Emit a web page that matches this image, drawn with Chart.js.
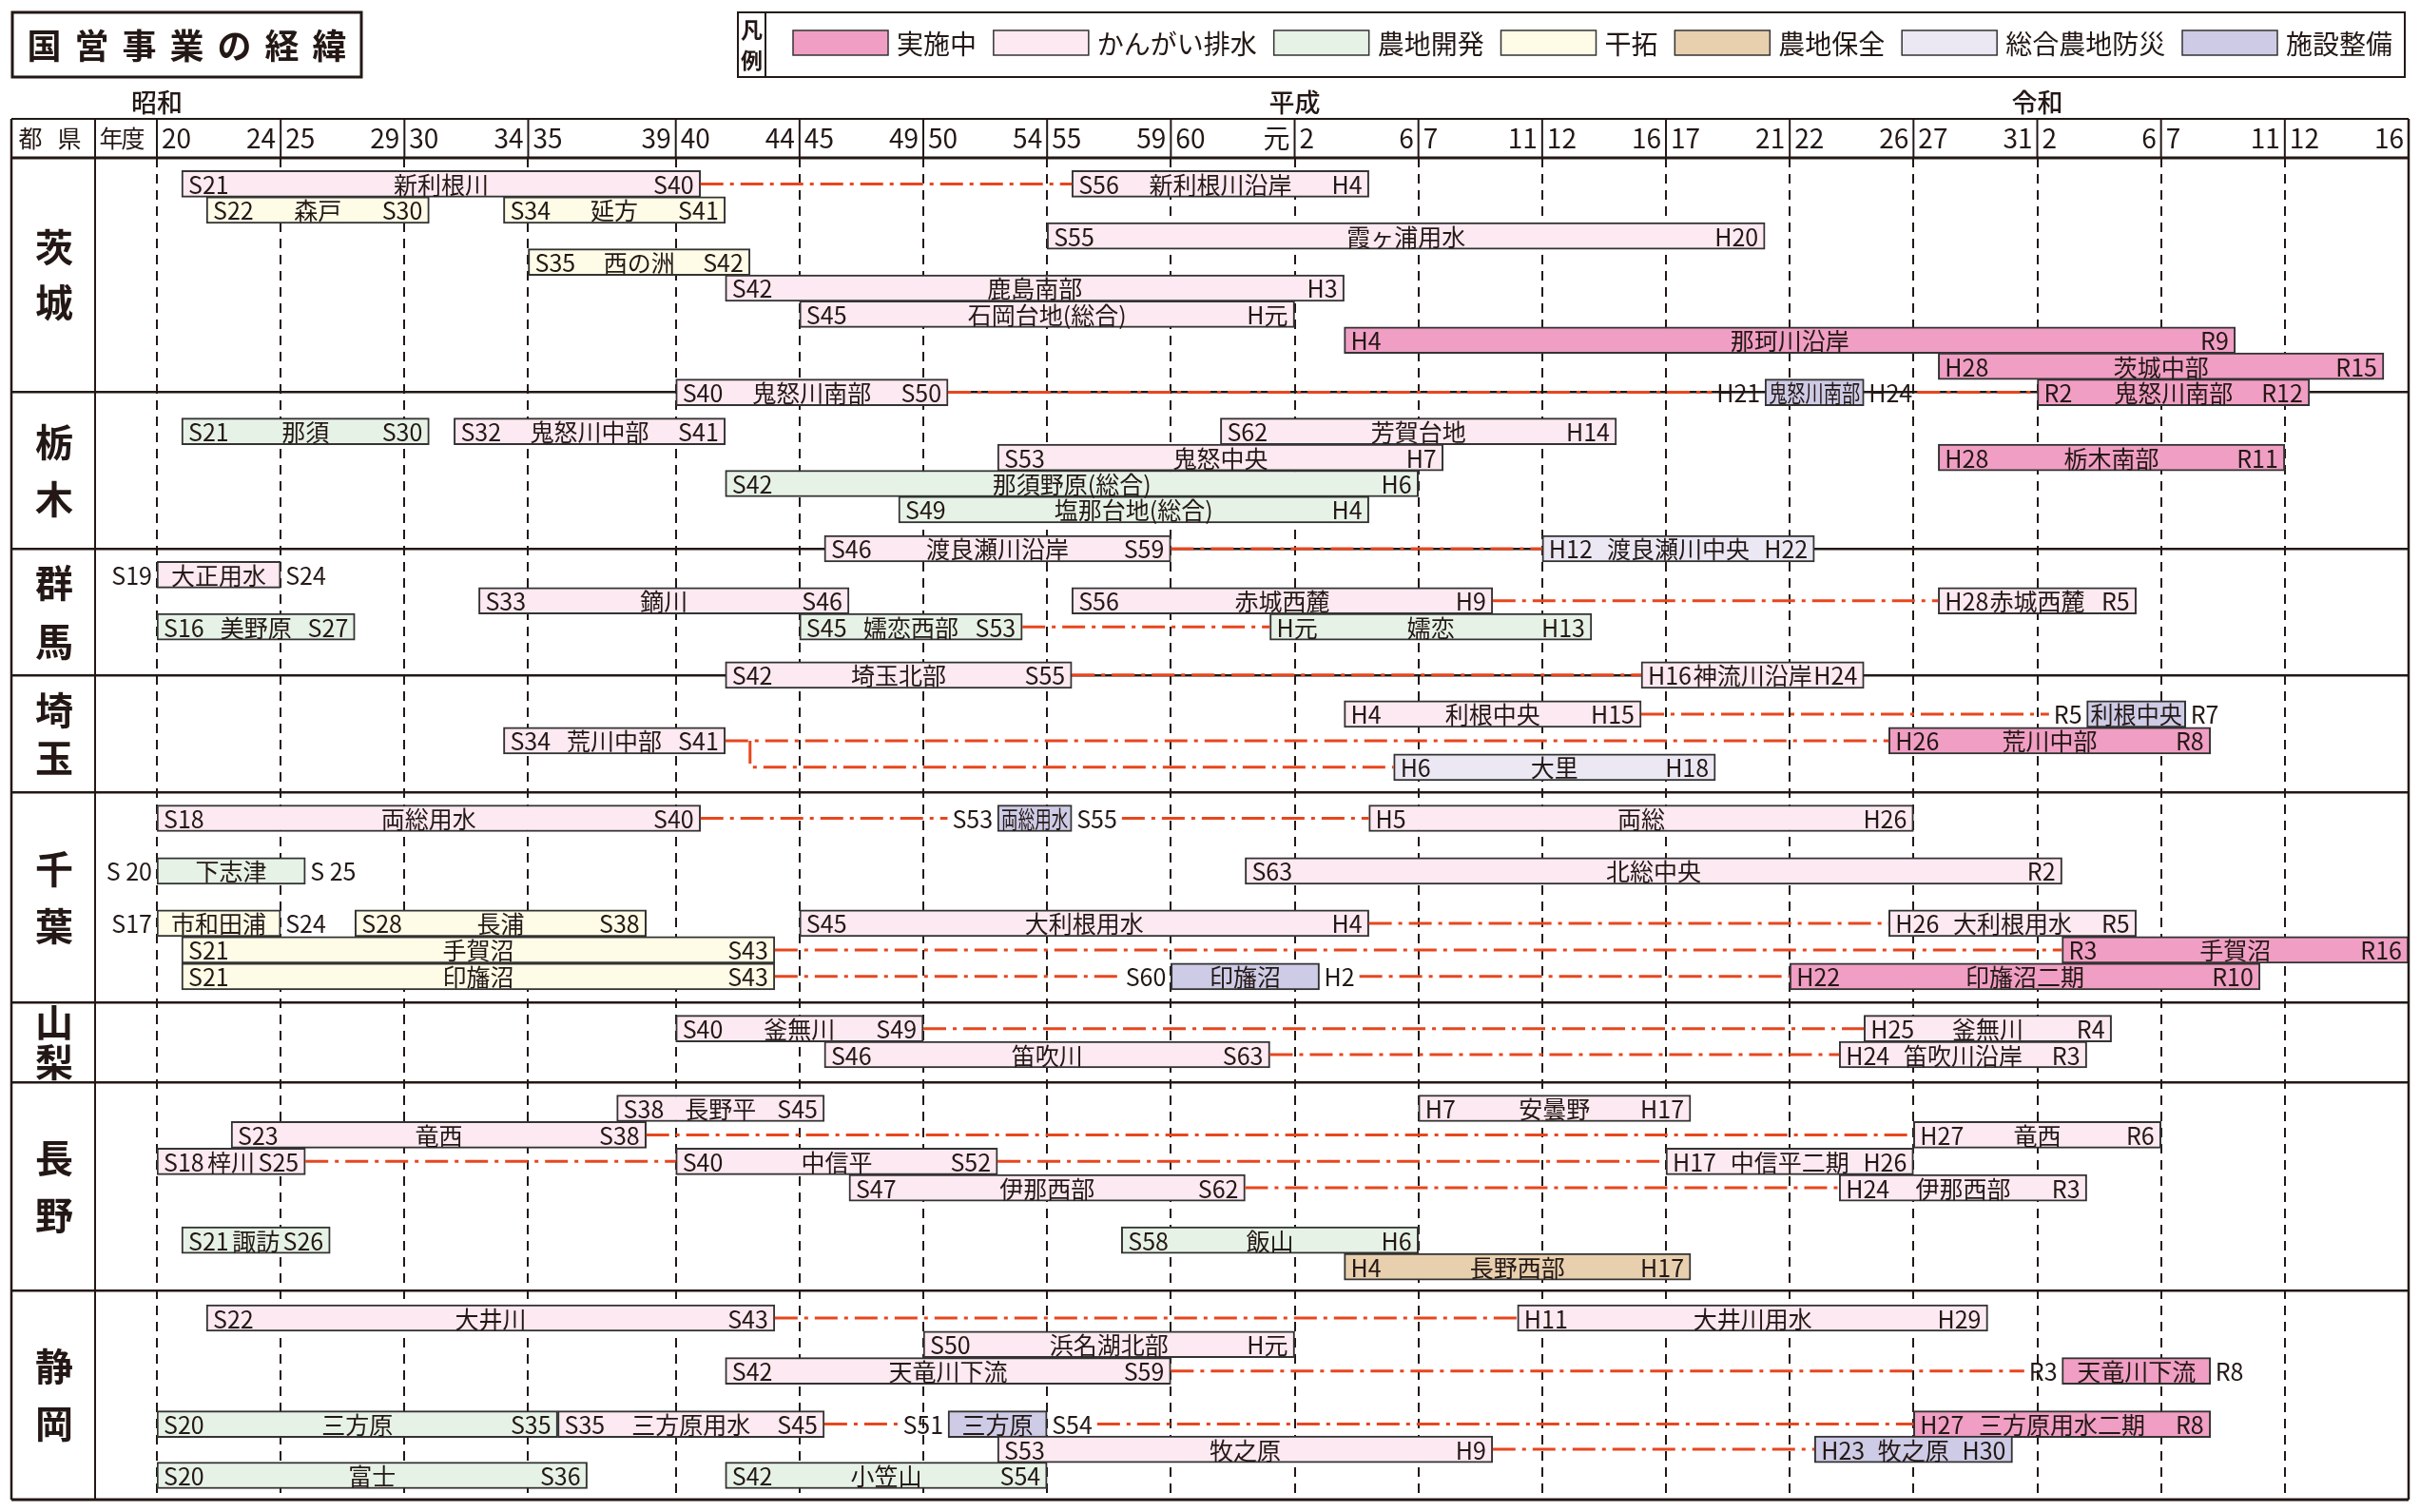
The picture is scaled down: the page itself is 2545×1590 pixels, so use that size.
<!DOCTYPE html>
<html lang="ja">
<head>
<meta charset="utf-8">
<title>国営事業の経緯</title>
<script src="https://cdn.jsdelivr.net/npm/chart.js@4.4.1/dist/chart.umd.min.js"></script>
<style>
  html, body { margin: 0; padding: 0; background: #fff; }
  #wrap { width: 2545px; height: 1590px; position: relative; }
</style>
</head>
<body>
<div id="wrap"><canvas id="history"></canvas></div>
<script>
const FONT = '"Noto Sans CJK JP", "Noto Sans", sans-serif';
const INK = '#231815';
const LINK_COLOR = '#e8461e';

const typeNames = ['実施中', 'かんがい排水', '農地開発', '干拓', '農地保全', '総合農地防災', '施設整備'];
const typeColors = ['#f09ec3', '#fce9f1', '#e7f2e6', '#fefbe7', '#e8cfae', '#ebe8f4', '#cecbe6'];

// x axis: fiscal years, one block per 5 years
const blockStartYears = [1945, 1950, 1955, 1960, 1965, 1970, 1975, 1980, 1985, 1990, 1995, 2000, 2005, 2010, 2015, 2020, 2025, 2030];
const blockStartLabels = ['20', '25', '30', '35', '40', '45', '50', '55', '60', '2', '7', '12', '17', '22', '27', '2', '7', '12'];
const blockEndLabels = ['24', '29', '34', '39', '44', '49', '54', '59', '元', '6', '11', '16', '21', '26', '31', '6', '11', '16'];
const eraLabels = ['昭和', '平成', '令和'];
const eraLabelYears = [1945, 1990, 2020];

// y axis: lanes, prefecture sections
const prefectures = ['茨城', '栃木', '群馬', '埼玉', '千葉', '山梨', '長野', '静岡'];
const prefectureEdges = [0, 9, 15, 19.85, 24.34, 32.42, 35.48, 43.49, 51.5];

// [name, start, end, type, lane, link from previous, labels outside box, drawn start]
const ibaraki = [
  ['新利根川', 'S21', 'S40', 1, 1],
  ['新利根川沿岸', 'S56', 'H4', 1, 1, 1],
  ['森戸', 'S22', 'S30', 3, 2],
  ['延方', 'S34', 'S41', 3, 2],
  ['霞ヶ浦用水', 'S55', 'H20', 1, 3],
  ['西の洲', 'S35', 'S42', 3, 4],
  ['鹿島南部', 'S42', 'H3', 1, 5],
  ['石岡台地(総合)', 'S45', 'H元', 1, 6],
  ['那珂川沿岸', 'H4', 'R9', 0, 7],
  ['茨城中部', 'H28', 'R15', 0, 8],
  ['鬼怒川南部', 'S40', 'S50', 1, 9],
  ['鬼怒川南部', 'H21', 'H24', 6, 9, 1, true],
  ['鬼怒川南部', 'R2', 'R12', 0, 9, 1]
];
const tochigi = [
  ['那須', 'S21', 'S30', 2, 10.5],
  ['鬼怒川中部', 'S32', 'S41', 1, 10.5],
  ['芳賀台地', 'S62', 'H14', 1, 10.5],
  ['鬼怒中央', 'S53', 'H7', 1, 11.5],
  ['栃木南部', 'H28', 'R11', 0, 11.5],
  ['那須野原(総合)', 'S42', 'H6', 2, 12.5],
  ['塩那台地(総合)', 'S49', 'H4', 2, 13.5],
  ['渡良瀬川沿岸', 'S46', 'S59', 1, 15],
  ['渡良瀬川中央', 'H12', 'H22', 5, 15, 1]
];
const gunma = [
  ['大正用水', 'S19', 'S24', 1, 16, 0, true],
  ['鏑川', 'S33', 'S46', 1, 17],
  ['赤城西麓', 'S56', 'H9', 1, 17],
  ['赤城西麓', 'H28', 'R5', 1, 17, 1],
  ['美野原', 'S16', 'S27', 2, 18],
  ['嬬恋西部', 'S45', 'S53', 2, 18],
  ['嬬恋', 'H元', 'H13', 2, 18, 1],
  ['埼玉北部', 'S42', 'S55', 1, 19.85],
  ['神流川沿岸', 'H16', 'H24', 1, 19.85, 1]
];
const saitama = [
  ['利根中央', 'H4', 'H15', 1, 21.35],
  ['利根中央', 'R5', 'R7', 6, 21.35, 1, true, 'R4'],
  ['荒川中部', 'S34', 'S41', 1, 22.37],
  ['荒川中部', 'H26', 'R8', 0, 22.37, 1],
  ['大里', 'H6', 'H18', 5, 23.39, [22.37, 'S43']]
];
const chiba = [
  ['両総用水', 'S18', 'S40', 1, 25.35],
  ['両総用水', 'S53', 'S55', 6, 25.35, 1, true],
  ['両総', 'H5', 'H26', 1, 25.35, 1],
  ['下志津', 'S 20', 'S 25', 2, 27.37, 0, true],
  ['北総中央', 'S63', 'R2', 1, 27.37],
  ['市和田浦', 'S17', 'S24', 3, 29.38, 0, true],
  ['長浦', 'S28', 'S38', 3, 29.38],
  ['大利根用水', 'S45', 'H4', 1, 29.38],
  ['大利根用水', 'H26', 'R5', 1, 29.38, 1],
  ['手賀沼', 'S21', 'S43', 3, 30.4],
  ['手賀沼', 'R3', 'R16', 0, 30.4, 1],
  ['印旛沼', 'S21', 'S43', 3, 31.42],
  ['印旛沼', 'S60', 'H2', 6, 31.42, 1, true],
  ['印旛沼二期', 'H22', 'R10', 0, 31.42, 1]
];
const yamanashi = [
  ['釜無川', 'S40', 'S49', 1, 33.42],
  ['釜無川', 'H25', 'R4', 1, 33.42, 1],
  ['笛吹川', 'S46', 'S63', 1, 34.42],
  ['笛吹川沿岸', 'H24', 'R3', 1, 34.42, 1]
];
const nagano = [
  ['長野平', 'S38', 'S45', 1, 36.48],
  ['安曇野', 'H7', 'H17', 1, 36.48],
  ['竜西', 'S23', 'S38', 1, 37.5],
  ['竜西', 'H27', 'R6', 1, 37.5, 1],
  ['梓川', 'S18', 'S25', 1, 38.52],
  ['中信平', 'S40', 'S52', 1, 38.52, 1],
  ['中信平二期', 'H17', 'H26', 1, 38.52, 1],
  ['伊那西部', 'S47', 'S62', 1, 39.53],
  ['伊那西部', 'H24', 'R3', 1, 39.53, 1],
  ['諏訪', 'S21', 'S26', 2, 41.54],
  ['飯山', 'S58', 'H6', 2, 41.54],
  ['長野西部', 'H4', 'H17', 4, 42.56]
];
const shizuoka = [
  ['大井川', 'S22', 'S43', 1, 44.53],
  ['大井川用水', 'H11', 'H29', 1, 44.53, 1],
  ['浜名湖北部', 'S50', 'H元', 1, 45.54],
  ['天竜川下流', 'S42', 'S59', 1, 46.56],
  ['天竜川下流', 'R3', 'R8', 0, 46.56, 1, true],
  ['三方原', 'S20', 'S35', 2, 48.6],
  ['三方原用水', 'S35', 'S45', 1, 48.6, 0, false, 'S36'],
  ['三方原', 'S51', 'S54', 6, 48.6, 1, true],
  ['三方原用水二期', 'H27', 'R8', 0, 48.6, 1],
  ['牧之原', 'S53', 'H9', 1, 49.57],
  ['牧之原', 'H23', 'H30', 6, 49.57, 1],
  ['富士', 'S20', 'S36', 2, 50.57],
  ['小笠山', 'S42', 'S54', 2, 50.57]
];

const projects = [...ibaraki, ...tochigi, ...gunma, ...saitama, ...chiba, ...yamanashi, ...nagano, ...shizuoka];

// S35-S39 block is drawn wider than the others
const AXIS_START = 1945, AXIS_END = 2035;
const WIDE_FROM = 1960, WIDE_TO = 1965, WIDE_FACTOR = 155 / 130;
function warpYear(v) {
  if (v <= WIDE_FROM) return v;
  if (v <= WIDE_TO) return WIDE_FROM + (v - WIDE_FROM) * WIDE_FACTOR;
  return v + (WIDE_TO - WIDE_FROM) * (WIDE_FACTOR - 1);
}
function unwarpYear(v) {
  if (v <= WIDE_FROM) return v;
  const wideEnd = warpYear(WIDE_TO);
  if (v <= wideEnd) return WIDE_FROM + (v - WIDE_FROM) / WIDE_FACTOR;
  return v - (WIDE_TO - WIDE_FROM) * (WIDE_FACTOR - 1);
}
class EraScale extends Chart.LinearScale {
  static id = 'era';
  static defaults = {};
  getPixelForValue(v) { return super.getPixelForValue(warpYear(v)); }
  getValueForPixel(p) { return unwarpYear(super.getValueForPixel(p)); }
}
Chart.register(EraScale);

function eraYear(label) {
  const s = label.replace(/\s/g, '');
  const n = s.slice(1) === '元' ? 1 : Number(s.slice(1));
  return { S: 1925, H: 1988, R: 2018 }[s[0]] + n;
}

const barData = projects.map(p => ({
  x: [Math.max(eraYear(p[7] || p[1]), AXIS_START), eraYear(p[2]) + 1],
  y: p[4]
}));

const prefCenters = prefectures.map((_, i) => (prefectureEdges[i] + prefectureEdges[i + 1]) / 2);
const innerEdges = prefectureEdges.slice(1, -1);
const prefLabelGap = [58, 60, 62, 50, 60, 42, 60, 60];
const BAR_FONT = `25px ${FONT}`;

function text(ctx, str, x, y, align, font, maxWidth) {
  ctx.font = font || BAR_FONT;
  ctx.textAlign = align;
  ctx.textBaseline = 'middle';
  ctx.fillStyle = INK;
  if (maxWidth) ctx.fillText(str, x, y, maxWidth);
  else ctx.fillText(str, x, y);
}
function line(ctx, x1, y1, x2, y2, w) {
  ctx.lineWidth = w;
  ctx.beginPath();
  ctx.moveTo(x1, y1);
  ctx.lineTo(x2, y2);
  ctx.stroke();
}

const ganttDecor = {
  id: 'ganttDecor',
  afterDatasetsDraw(chart) {
    const ctx = chart.ctx;
    const boxes = chart.getDatasetMeta(0).data.map(el => {
      const p = el.getProps(['x', 'base', 'y'], true);
      return { left: Math.min(p.x, p.base), right: Math.max(p.x, p.base), y: p.y };
    });
    ctx.save();
    ctx.font = BAR_FONT;
    // dash-dot links between successive projects
    ctx.strokeStyle = LINK_COLOR;
    ctx.lineWidth = 3;
    ctx.setLineDash([24, 7, 4, 7]);
    projects.forEach((p, i) => {
      if (!p[5]) return;
      const branch = Array.isArray(p[5]);
      const fromLane = branch ? p[5][0] : p[4];
      let prev = -1;
      projects.forEach((q, j) => {
        if (j === i || Math.abs(q[4] - fromLane) > 0.001 || barData[j].x[1] > barData[i].x[0]) return;
        if (prev < 0 || barData[j].x[1] > barData[prev].x[1]) prev = j;
      });
      if (prev < 0) return;
      ctx.font = BAR_FONT;
      let x0 = boxes[prev].right, x1 = boxes[i].left;
      if (projects[prev][6]) x0 += ctx.measureText(projects[prev][2]).width + 10;
      if (p[6]) x1 -= ctx.measureText(p[1]).width + 10;
      ctx.beginPath();
      if (branch) {
        const bx = chart.scales.x.getPixelForValue(eraYear(p[5][1]));
        ctx.moveTo(bx, boxes[prev].y);
        ctx.lineTo(bx, boxes[i].y);
        ctx.lineTo(x1, boxes[i].y);
      } else {
        ctx.moveTo(x0, boxes[i].y);
        ctx.lineTo(x1, boxes[i].y);
      }
      ctx.stroke();
    });
    ctx.setLineDash([]);
    // labels
    projects.forEach((p, i) => {
      const b = boxes[i], cx = (b.left + b.right) / 2, y = b.y + 1;
      if (p[6]) {
        text(ctx, p[1], b.left - 5, y, 'right');
        text(ctx, p[2], b.right + 5, y, 'left');
        text(ctx, p[0], cx, y, 'center', BAR_FONT, b.right - b.left - 8);
      } else {
        text(ctx, p[1], b.left + 7, y, 'left');
        text(ctx, p[2], b.right - 7, y, 'right');
        text(ctx, p[0], cx, y, 'center');
      }
    });
    ctx.restore();
  },
  afterDraw(chart) {
    const ctx = chart.ctx;
    const xs = chart.scales.x;
    const area = chart.chartArea;
    const L = 12, COL = 100, TOP = 125, HB = area.top, R = area.right, B = area.bottom;
    ctx.save();
    ctx.strokeStyle = INK;
    // table frame
    line(ctx, L, TOP, R, TOP, 2);
    line(ctx, L, HB, R, HB, 3);
    line(ctx, L, B, R, B, 3);
    line(ctx, L, TOP, L, B, 2.5);
    line(ctx, R, TOP, R, B, 2.5);
    line(ctx, COL, TOP, COL, B, 2);
    line(ctx, area.left, TOP, area.left, HB, 2);
    blockStartYears.forEach(y => line(ctx, xs.getPixelForValue(y), TOP, xs.getPixelForValue(y), HB, 2));
    // header texts
    const hy = (TOP + HB) / 2;
    const hf = `25px ${FONT}`;
    text(ctx, '都', 32, hy, 'center', hf);
    text(ctx, '県', 73, hy, 'center', hf);
    text(ctx, '年', 117, hy, 'center', hf);
    text(ctx, '度', 140, hy, 'center', hf);
    const tf = `28px ${FONT}`;
    blockStartYears.forEach((y, i) => {
      text(ctx, blockStartLabels[i], xs.getPixelForValue(y) + 5, hy, 'left', tf);
      text(ctx, blockEndLabels[i], xs.getPixelForValue(y + 5) - 5, hy, 'right', tf);
    });
    eraLabels.forEach((e, i) => text(ctx, e, xs.getPixelForValue(eraLabelYears[i]), 108, 'center', `500 27px ${FONT}`));
    // title
    ctx.lineWidth = 3;
    ctx.strokeRect(13, 13, 367, 68);
    const title = '国営事業の経緯';
    [...title].forEach((c, k) => text(ctx, c, 196.5 + (k - 3) * 50, 48, 'center', `bold 36px ${FONT}`));
    // legend
    ctx.lineWidth = 2;
    ctx.strokeRect(776, 13, 1753, 68);
    line(ctx, 805, 13, 805, 81, 2);
    text(ctx, '凡', 790.5, 31, 'center', `bold 23px ${FONT}`);
    text(ctx, '例', 790.5, 63, 'center', `bold 23px ${FONT}`);
    const lf = `28px ${FONT}`;
    ctx.font = lf;
    const widths = typeNames.map(t => ctx.measureText(t).width);
    const sw = 100, tg = 9, lx0 = 834, lx1 = 2516;
    const gap = (lx1 - lx0 - typeNames.length * (sw + tg) - widths.reduce((a, b) => a + b, 0)) / (typeNames.length - 1);
    let lx = lx0;
    typeNames.forEach((t, i) => {
      ctx.fillStyle = typeColors[i];
      ctx.fillRect(lx, 32, sw, 26);
      ctx.lineWidth = 1.5;
      ctx.strokeStyle = '#333';
      ctx.strokeRect(lx, 32, sw, 26);
      text(ctx, t, lx + sw + tg, 46, 'left', lf);
      lx += sw + tg + widths[i] + gap;
    });
    ctx.restore();
  }
};

new Chart(document.getElementById('history'), {
  type: 'bar',
  data: {
    datasets: [{
      data: barData,
      backgroundColor: projects.map(p => typeColors[p[3]]),
      borderColor: '#333',
      borderWidth: 2,
      borderSkipped: false,
      barThickness: 28
    }]
  },
  plugins: [ganttDecor],
  options: {
    responsive: true,
    maintainAspectRatio: false,
    animation: false,
    indexAxis: 'y',
    layout: { padding: { top: 166, left: 12, right: 12, bottom: 13 } },
    plugins: { legend: { display: false }, tooltip: { enabled: false } },
    scales: {
      x: {
        type: 'era',
        position: 'top',
        min: AXIS_START,
        max: warpYear(AXIS_END),
        offset: false,
        afterBuildTicks: s => { s.ticks = blockStartYears.map(v => ({ value: v })); },
        afterFit: s => { s.height = 0; },
        ticks: { display: false, autoSkip: false },
        grid: { color: INK, lineWidth: 2, drawTicks: false, offset: false },
        border: { display: false, dash: [10, 7] }
      },
      y: {
        type: 'linear',
        reverse: true,
        offset: false,
        min: prefectureEdges[0],
        max: prefectureEdges[prefectureEdges.length - 1],
        afterBuildTicks: s => {
          s.ticks = [...innerEdges, ...prefCenters].sort((a, b) => a - b).map(v => ({ value: v }));
        },
        afterFit: s => { s.width = 153; },
        border: { display: false },
        grid: {
          offset: false,
          color: c => (c.tick && prefCenters.includes(c.tick.value)) ? 'rgba(0,0,0,0)' : INK,
          lineWidth: 2.5,
          tickLength: 153
        },
        ticks: {
          autoSkip: false,
          crossAlign: 'center',
          padding: -65,
          color: INK,
          font: c => {
            const k = prefCenters.indexOf(c.tick ? c.tick.value : NaN);
            return { family: FONT, size: 40, weight: 'bold', lineHeight: (prefLabelGap[k] || 60) + 'px' };
          },
          callback: v => {
            const k = prefCenters.indexOf(v);
            return k < 0 ? '' : [...prefectures[k]];
          }
        }
      }
    }
  }
});
</script>
</body>
</html>
